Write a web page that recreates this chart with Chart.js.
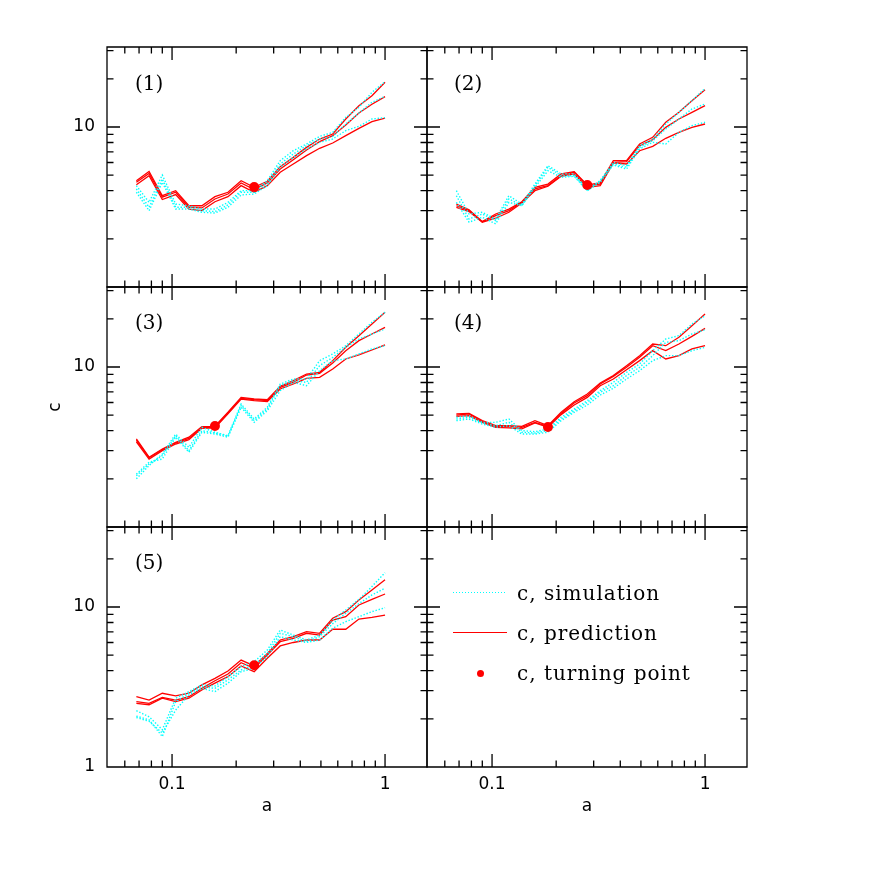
<!DOCTYPE html>
<html><head><meta charset="utf-8">
<script src="https://cdn.jsdelivr.net/npm/chart.js@4.4.1/dist/chart.umd.min.js"></script>
<style>
html,body{margin:0;padding:0;background:#fff;}
#wrap{position:relative;width:872px;height:872px;overflow:hidden;background:#fff;}
#wrap canvas{position:absolute;left:0;top:0;}
.lbl{position:absolute;font-family:"DejaVu Serif";font-size:20px;line-height:20px;color:#000;white-space:nowrap;}
.leg{letter-spacing:1px;}
</style></head>
<body><div id="wrap">
<canvas id="c1" width="872" height="872"></canvas>
<canvas id="c2" width="872" height="872"></canvas>
<canvas id="c3" width="872" height="872"></canvas>
<canvas id="c4" width="872" height="872"></canvas>
<canvas id="c5" width="872" height="872"></canvas>
<canvas id="c6" width="872" height="872"></canvas>
<div class="lbl" style="left:135px;top:73px">(1)</div>
<div class="lbl" style="left:454px;top:73px">(2)</div>
<div class="lbl" style="left:135px;top:312px">(3)</div>
<div class="lbl" style="left:454px;top:312px">(4)</div>
<div class="lbl" style="left:135px;top:552px">(5)</div>
<div style="position:absolute;left:453px;top:592px;width:54px;height:1.4px;background:repeating-linear-gradient(to right,#00ffff 0 1.4px,transparent 1.4px 3px);"></div>
<div style="position:absolute;left:453px;top:631.5px;width:54px;height:1.3px;background:#ff0000;"></div>
<div style="position:absolute;left:476.5px;top:669.5px;width:7px;height:7px;border-radius:50%;background:#ff0000;"></div>
<div class="lbl leg" style="left:517px;top:583px">c, simulation</div>
<div class="lbl leg" style="left:517px;top:623px">c, prediction</div>
<div class="lbl leg" style="left:517px;top:663px">c, turning point</div>
</div>
<script>
// expansion factor a (shared by all panels)
const aValues = [0.068, 0.078, 0.090, 0.104, 0.120, 0.138, 0.159, 0.183, 0.211, 0.243, 0.280, 0.322, 0.371, 0.428, 0.493, 0.568, 0.654, 0.754, 0.868, 1.0];

// Panel (1)
const p1PredHi  = [4.62, 5.28, 3.72, 4.00, 3.22, 3.22, 3.67, 3.91, 4.62, 4.20, 4.58, 5.65, 6.46, 7.46, 8.41, 9.04, 11.22, 13.59, 15.70, 19.02];
const p1PredMid = [4.51, 5.13, 3.64, 3.91, 3.15, 3.12, 3.55, 3.81, 4.47, 4.06, 4.47, 5.46, 6.25, 7.18, 8.10, 8.83, 10.29, 12.23, 13.86, 15.47];
const p1PredLo  = [4.36, 4.96, 3.52, 3.78, 3.07, 3.00, 3.41, 3.67, 4.30, 3.91, 4.30, 5.21, 5.87, 6.62, 7.36, 7.94, 8.83, 9.81, 10.80, 11.38];
const p1SimHi   = [4.30, 3.38, 5.01, 3.30, 3.22, 3.07, 3.07, 3.38, 4.00, 4.00, 4.62, 6.16, 7.11, 7.83, 8.74, 9.26, 11.49, 13.27, 16.47, 19.20];
const p1SimMid  = [4.10, 3.15, 4.73, 3.15, 3.15, 3.00, 2.96, 3.26, 3.91, 3.91, 4.47, 5.87, 6.78, 7.64, 8.41, 8.74, 10.44, 12.23, 14.26, 15.55];
const p1SimLo   = [3.91, 3.00, 4.51, 3.07, 3.07, 2.93, 2.90, 3.15, 3.76, 3.81, 4.30, 5.60, 6.46, 7.29, 8.02, 8.41, 9.49, 10.10, 11.22, 11.44];

// Panel (2)
const p2PredHi  = [3.30, 3.04, 2.56, 2.86, 3.07, 3.41, 4.20, 4.40, 5.09, 5.26, 4.34, 4.47, 6.16, 6.16, 7.83, 8.62, 10.70, 12.35, 14.61, 17.11];
const p2PredMid = [3.22, 3.00, 2.56, 2.79, 3.00, 3.38, 4.10, 4.30, 4.96, 5.21, 4.30, 4.40, 6.01, 6.07, 7.64, 8.33, 9.95, 11.22, 12.35, 13.59];
const p2PredLo  = [3.15, 2.96, 2.54, 2.69, 2.93, 3.35, 4.00, 4.26, 4.92, 5.09, 4.20, 4.30, 5.96, 5.87, 7.11, 7.57, 8.50, 9.26, 9.95, 10.44];
const p2SimHi   = [4.00, 2.86, 2.93, 2.66, 3.72, 3.30, 4.40, 5.73, 5.09, 5.09, 4.10, 4.62, 6.01, 5.73, 7.64, 8.41, 10.44, 12.35, 14.61, 17.44];
const p2SimMid  = [3.72, 2.66, 2.86, 2.60, 3.55, 3.22, 4.30, 5.60, 4.96, 4.96, 4.00, 4.62, 5.87, 5.60, 7.46, 8.21, 9.72, 11.22, 12.96, 13.92];
const p2SimLo   = [3.38, 2.54, 2.73, 2.48, 3.38, 3.22, 4.20, 5.33, 4.85, 4.92, 4.00, 4.51, 5.79, 5.46, 7.29, 8.02, 7.83, 9.26, 10.19, 10.70];

// Panel (3)
const p3PredHi  = [3.55, 2.73, 3.07, 3.38, 3.64, 4.24, 4.26, 5.21, 6.46, 6.31, 6.25, 7.57, 8.21, 9.04, 9.26, 10.96, 13.27, 15.70, 18.57, 21.97];
const p3PredMid = [3.49, 2.71, 3.04, 3.35, 3.58, 4.20, 4.20, 5.16, 6.37, 6.25, 6.16, 7.46, 8.02, 8.91, 9.13, 10.59, 12.65, 14.61, 16.08, 17.69];
const p3PredLo  = [3.41, 2.66, 3.00, 3.30, 3.52, 4.14, 4.16, 5.09, 6.31, 6.16, 6.07, 7.29, 7.83, 8.50, 8.62, 9.72, 11.22, 11.89, 12.77, 13.73];
const p3SimHi   = [2.00, 2.42, 2.86, 3.81, 3.15, 4.20, 3.91, 3.72, 5.87, 4.73, 5.60, 7.83, 8.41, 8.41, 10.96, 12.06, 13.59, 16.08, 19.02, 21.97];
const p3SimMid  = [2.09, 2.48, 2.79, 3.72, 3.00, 4.00, 3.87, 3.69, 5.73, 4.62, 5.46, 7.64, 8.21, 8.02, 10.19, 11.49, 13.27, 14.96, 16.08, 17.28];
const p3SimLo   = [2.14, 2.54, 2.66, 3.64, 2.93, 3.91, 3.81, 3.64, 5.60, 4.51, 5.33, 7.11, 8.02, 7.64, 9.49, 10.96, 11.22, 12.06, 12.96, 13.59];

// Panel (4)
const p4PredHi  = [5.09, 5.13, 4.62, 4.30, 4.30, 4.26, 4.62, 4.30, 5.21, 6.07, 6.78, 7.94, 8.83, 10.19, 11.77, 13.92, 13.59, 15.32, 18.13, 21.44];
const p4PredMid = [5.01, 5.09, 4.55, 4.26, 4.24, 4.20, 4.51, 4.26, 5.13, 5.96, 6.62, 7.83, 8.74, 9.95, 11.49, 13.59, 12.65, 13.92, 15.55, 17.44];
const p4PredLo  = [4.92, 4.96, 4.51, 4.20, 4.16, 4.10, 4.47, 4.20, 5.04, 5.79, 6.46, 7.64, 8.41, 9.62, 10.96, 12.65, 11.22, 11.77, 12.96, 13.59];
const p4SimHi   = [4.85, 4.96, 4.51, 4.51, 4.73, 4.00, 3.94, 4.10, 4.85, 5.46, 6.16, 7.11, 8.02, 9.26, 10.44, 12.65, 14.96, 15.70, 18.57, 20.93];
const p4SimMid  = [4.73, 4.85, 4.47, 4.30, 4.51, 3.91, 3.87, 4.00, 4.73, 5.33, 6.01, 6.95, 7.64, 8.83, 9.95, 11.77, 14.26, 14.61, 16.08, 17.11];
const p4SimLo   = [4.62, 4.73, 4.40, 4.20, 4.30, 3.81, 3.81, 3.91, 4.62, 5.21, 5.79, 6.68, 7.36, 8.41, 9.49, 10.96, 11.77, 11.77, 12.65, 13.27];

// Panel (5)
const p5PredHi  = [2.75, 2.62, 2.89, 2.78, 2.89, 3.26, 3.58, 3.98, 4.66, 4.28, 5.13, 6.22, 6.52, 7.01, 6.85, 8.50, 9.35, 11.05, 12.77, 14.82];
const p5PredMid = [2.56, 2.50, 2.72, 2.62, 2.75, 3.10, 3.46, 3.81, 4.49, 4.14, 5.01, 6.07, 6.37, 6.85, 6.68, 8.29, 8.70, 10.29, 11.16, 12.06];
const p5PredLo  = [2.50, 2.45, 2.69, 2.56, 2.69, 3.03, 3.34, 3.67, 4.28, 3.94, 4.78, 5.71, 6.00, 6.22, 6.22, 7.26, 7.26, 8.41, 8.62, 8.91];
const p5SimHi   = [2.25, 2.06, 1.71, 2.69, 2.96, 3.26, 3.21, 3.67, 4.24, 4.55, 5.38, 7.18, 6.68, 6.22, 6.68, 8.29, 9.58, 11.16, 13.43, 16.39];
const p5SimMid  = [2.08, 1.97, 1.55, 2.56, 2.89, 3.18, 3.10, 3.51, 4.04, 4.34, 5.13, 6.85, 6.52, 6.07, 6.52, 7.87, 9.13, 10.49, 11.89, 13.11];
const p5SimLo   = [2.04, 1.93, 1.63, 2.27, 2.82, 3.10, 2.96, 3.34, 3.94, 4.14, 4.89, 6.52, 6.22, 6.00, 6.22, 7.36, 8.10, 8.70, 9.35, 9.90];

// Turning points (a, c) per panel
const turnA = [0.243, 0.280, 0.159, 0.183, 0.243];
const turnC = [4.22, 4.34, 4.28, 4.22, 4.32];

// Axis ticks
const xLabelTicks = [0.1, 1];
const xMajorTicks = [0.1, 1];
const xMinorTicks = [0.06, 0.07, 0.08, 0.09, 0.2, 0.3, 0.4, 0.5, 0.6, 0.7, 0.8, 0.9];
const yMajorTicks = [1, 10];
const yMinorTicks = [2, 3, 4, 5, 6, 7, 8, 9, 20, 30];

const X_MIN = 0.0495, X_MAX = 1.574;
const Y_MIN = 1, Y_MAX = 31.62;

const colL = [107, 427], colR = [427, 747];
const rowT = [47, 287, 527], rowB = [287, 527, 767];
const W = 872, YAXW = 62, XAXH = 50;

const panels = [
  {pred: [p1PredHi, p1PredMid, p1PredLo], sim: [p1SimHi, p1SimMid, p1SimLo], turn: 0, col: 0, row: 0},
  {pred: [p2PredHi, p2PredMid, p2PredLo], sim: [p2SimHi, p2SimMid, p2SimLo], turn: 1, col: 1, row: 0},
  {pred: [p3PredHi, p3PredMid, p3PredLo], sim: [p3SimHi, p3SimMid, p3SimLo], turn: 2, col: 0, row: 1},
  {pred: [p4PredHi, p4PredMid, p4PredLo], sim: [p4SimHi, p4SimMid, p4SimLo], turn: 3, col: 1, row: 1},
  {pred: [p5PredHi, p5PredMid, p5PredLo], sim: [p5SimHi, p5SimMid, p5SimLo], turn: 4, col: 0, row: 2},
  {pred: [], sim: [], turn: null, col: 1, row: 2}
];

const framePlugin = {
  id: 'frameTicks',
  afterDatasetsDraw(chart) {
    const {ctx, chartArea: {left, right, top, bottom}, scales: {x, y}} = chart;
    ctx.save();
    ctx.strokeStyle = '#000';
    ctx.lineWidth = 1.3;
    ctx.beginPath();
    ctx.rect(left, top, right - left, bottom - top);
    const xt = (vals, len) => vals.forEach(v => {
      const px = x.getPixelForValue(v);
      ctx.moveTo(px, bottom); ctx.lineTo(px, bottom - len);
      ctx.moveTo(px, top); ctx.lineTo(px, top + len);
    });
    const yt = (vals, len) => vals.forEach(v => {
      const py = y.getPixelForValue(v);
      ctx.moveTo(left, py); ctx.lineTo(left + len, py);
      ctx.moveTo(right, py); ctx.lineTo(right - len, py);
    });
    xt(xMajorTicks, 13); xt(xMinorTicks, 6.5);
    yt(yMajorTicks, 13); yt(yMinorTicks, 6.5);
    ctx.stroke();
    ctx.restore();
  }
};

const tickFont = {family: 'DejaVu Sans', size: 17};

panels.forEach((p, i) => {
  const isLeft = p.col === 0, isBottom = p.row === 2;
  const L = isLeft ? colL[0] : colR[0], R = isLeft ? colL[1] : colR[1];
  const T = rowT[p.row], B = rowB[p.row];
  const datasets = [];
  if (p.turn !== null) {
    datasets.push({label: 'c, turning point', data: [{x: turnA[p.turn], y: turnC[p.turn]}], showLine: false,
      pointRadius: 5, pointHoverRadius: 5, pointBackgroundColor: '#ff0000', pointBorderWidth: 0,
      borderColor: '#ff0000', backgroundColor: '#ff0000'});
  }
  p.sim.forEach(s => datasets.push({label: 'c, simulation', data: aValues.map((a, k) => ({x: a, y: s[k]})),
    borderColor: '#00ffff', borderWidth: 1.4, borderDash: [1.4, 1.8], pointRadius: 0, tension: 0, fill: false}));
  p.pred.forEach(s => datasets.push({label: 'c, prediction', data: aValues.map((a, k) => ({x: a, y: s[k]})),
    borderColor: '#ff0000', borderWidth: 1.3, pointRadius: 0, tension: 0, fill: false}));
  const yTicks = isBottom ? [1, 10] : [10];
  new Chart(document.getElementById('c' + (i + 1)), {
    type: 'line',
    data: {datasets},
    options: {
      responsive: false, animation: false, devicePixelRatio: 1,
      events: [],
      layout: {autoPadding: false, padding: {left: isLeft ? L - YAXW : L, top: T, right: W - R, bottom: isBottom ? W - B - XAXH : W - B}},
      plugins: {legend: {display: false}, tooltip: {enabled: false}},
      scales: {
        x: {type: 'logarithmic', min: X_MIN, max: X_MAX, display: isBottom,
          grid: {display: false, drawTicks: false}, border: {display: false},
          afterBuildTicks: s => { s.ticks = xLabelTicks.map(v => ({value: v})); },
          afterFit: s => { s.height = isBottom ? XAXH : 0; },
          ticks: {color: '#000', font: tickFont, padding: 7, maxRotation: 0, autoSkip: false, callback: v => String(v)},
          title: {display: isBottom, text: 'a', color: '#000', font: tickFont, padding: 0}},
        y: {type: 'logarithmic', min: Y_MIN, max: Y_MAX, display: isLeft,
          grid: {display: false, drawTicks: false}, border: {display: false},
          afterBuildTicks: s => { s.ticks = yTicks.map(v => ({value: v})); },
          afterFit: s => { s.width = isLeft ? YAXW : 0; },
          ticks: {color: '#000', font: tickFont, padding: 12, autoSkip: false, callback: v => String(v)},
          title: {display: isLeft && p.row === 1, text: 'c', color: '#000', font: tickFont, padding: 0}}
      }
    },
    plugins: [framePlugin]
  });
});
</script>
</body></html>
